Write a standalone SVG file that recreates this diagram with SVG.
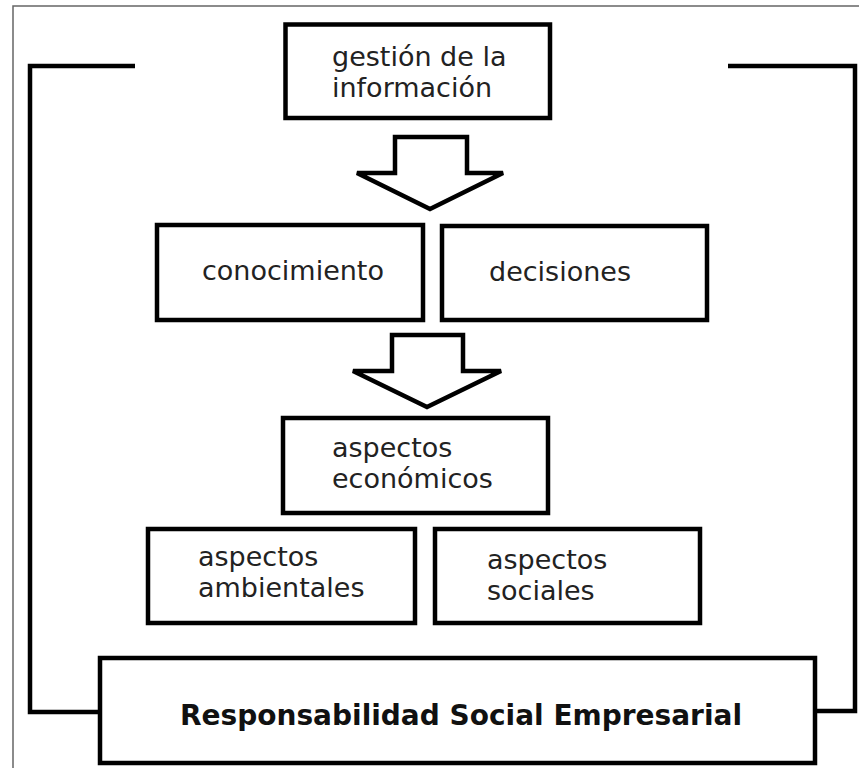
<svg xmlns="http://www.w3.org/2000/svg" width="859" height="768" viewBox="0 0 859 768">
<style>
.box{fill:#fff;stroke:#000;stroke-width:4.5}
.arrow{fill:#fff;stroke:#000;stroke-width:4.5;stroke-linejoin:miter}
.line{fill:none;stroke:#000;stroke-width:4.5;stroke-linejoin:miter}
.t{font-family:"DejaVu Sans",Verdana,sans-serif;font-size:27px;fill:#222}
.tb{font-family:"DejaVu Sans",Verdana,sans-serif;font-size:28px;font-weight:bold;fill:#111}
</style>
<rect width="859" height="768" fill="#fff"/>
<path d="M13,768 V6 H859" fill="none" stroke="#666" stroke-width="1.5"/>
<g id="connectors">
<path class="line" d="M135,66 H30 V712 H100"/>
<path class="line" d="M728,66 H855 V711 H815"/>
<path class="arrow" d="M395,137 H467 V173 H503 L430,209 L357,173 H395 Z"/>
<path class="arrow" d="M392,335 H463 V371 H501 L427,407 L353,371 H392 Z"/>
</g>
<g id="gestion">
<rect class="box" x="285.5" y="24.5" width="264.5" height="93.5"/>
<text class="t" x="332" y="66">gestión de la</text>
<text class="t" x="332" y="97">información</text>
</g>
<g id="conocimiento">
<rect class="box" x="157" y="225" width="266" height="95"/>
<text class="t" x="202" y="280">conocimiento</text>
</g>
<g id="decisiones">
<rect class="box" x="442" y="226" width="265" height="94"/>
<text class="t" x="489" y="281">decisiones</text>
</g>
<g id="economicos">
<rect class="box" x="283" y="418" width="265" height="95"/>
<text class="t" x="332" y="457">aspectos</text>
<text class="t" x="332" y="488">económicos</text>
</g>
<g id="ambientales">
<rect class="box" x="148" y="529" width="267" height="94"/>
<text class="t" x="198" y="566">aspectos</text>
<text class="t" x="198" y="597">ambientales</text>
</g>
<g id="sociales">
<rect class="box" x="435" y="529" width="265" height="94"/>
<text class="t" x="487" y="569">aspectos</text>
<text class="t" x="487" y="600">sociales</text>
</g>
<g id="rse">
<rect class="box" x="100" y="658" width="715" height="105"/>
<text class="tb" x="180" y="725">Responsabilidad Social Empresarial</text>
</g>
</svg>
